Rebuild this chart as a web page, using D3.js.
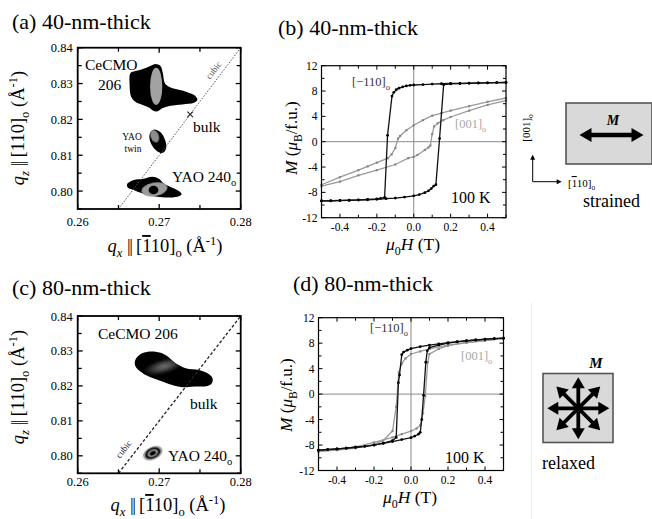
<!DOCTYPE html>
<html>
<head>
<meta charset="utf-8">
<script src="https://cdn.jsdelivr.net/npm/d3@7"></script>
<style>
  body { margin: 0; background: #fff; }
  svg, svg text { font-family: "Liberation Serif", "DejaVu Serif", serif; }
</style>
</head>
<body>
<svg id="fig" width="652" height="519" font-family="Liberation Serif"></svg>
<script>
'use strict';

/************************ data ************************/
// reciprocal space maps: peak outlines [qx, qz]
var ceCmoA = [[0.26646,0.83288],[0.26687,0.83334],[0.2679,0.83399],[0.26893,0.83492],[0.26954,0.83547],[0.27016,0.83492],
    [0.27045,0.83288],[0.2707,0.8301],[0.2714,0.8289],[0.27242,0.82825],[0.27345,0.8276],[0.27428,0.82677],[0.27469,0.82547],
    [0.27428,0.82464],[0.27284,0.82418],[0.2714,0.8238],[0.27045,0.82316],[0.26975,0.82223],[0.26921,0.82251],[0.2688,0.82325],
    [0.2679,0.82408],[0.26707,0.82492],[0.26654,0.8264],[0.26637,0.82964]];
var yaoTwinA = [[0.26934,0.81714],[0.27016,0.8164],[0.2707,0.81436],[0.27086,0.81205],[0.27045,0.81066],
    [0.26975,0.81112],[0.26913,0.8127],[0.2688,0.81482],[0.26893,0.8164]];
var yao240A = [[0.26605,0.80186],[0.26687,0.80306],[0.2681,0.80344],[0.26913,0.80399],[0.26996,0.80344],[0.27057,0.80214],
    [0.2716,0.80094],[0.27242,0.80001],[0.27275,0.79908],[0.27201,0.79834],[0.27036,0.79825],[0.26913,0.79862],
    [0.2679,0.79936],[0.26687,0.80029],[0.26617,0.80094]];
// inner contour levels [qx, qz, half width qx, half width qz]
var coresA = [[0.26963,0.8292,0.00075,0.0052],[0.26945,0.8153,0.0005,0.0018],[0.26942,0.80048,0.0016,0.0019],[0.2693,0.8003,0.0006,0.0012]];

var ceCmoC = [[0.26707,0.82743],[0.2679,0.82934],[0.26954,0.8298],[0.27078,0.82886],[0.27201,0.82648],[0.27325,0.82505],
    [0.27489,0.82457],[0.27593,0.82362],[0.27654,0.8222],[0.27646,0.82077],[0.27593,0.82],[0.27448,0.8198],
    [0.27325,0.81963],[0.27201,0.82],[0.27037,0.82123],[0.26872,0.82266],[0.26769,0.82409],[0.26707,0.82571]];
var coresC = [[0.27060,0.82560,0.0026,0.0019]];
var yao240C = [0.26921, 0.80077, 0.00125, 0.00185];
var yaoRings = [1, 0.78, 0.55, 0.3];

var cubicLine = [[0.265, 0.795], [0.28, 0.84]];
var bulkA = [0.2738, 0.8214];

var qxMajor = [0.26, 0.27, 0.28], qxMinor = [0.265, 0.275];
var qzMajor = [0.80, 0.81, 0.82, 0.83, 0.84], qzMinor = [0.795, 0.805, 0.815, 0.825, 0.835];

// hysteresis loops [mu0H (T), M (muB/f.u.)]
var b110Down = [[0.5,9.35],[0.45,9.33],[0.4,9.3],[0.35,9.28],[0.3,9.25],[0.25,9.22],[0.2,9.2],[0.15,9.15],[0.1,9.1],[0.05,9.02],
    [0.0,8.95],[-0.02,8.9],[-0.04,8.8],[-0.06,8.65],[-0.08,8.45],[-0.095,8.2],[-0.108,7.8],[-0.118,7.2],[-0.142,1.0],
    [-0.158,-8.8],[-0.18,-8.95],[-0.2,-9.02],[-0.25,-9.1],[-0.3,-9.18],[-0.35,-9.23],[-0.4,-9.27],[-0.45,-9.32],[-0.5,-9.35]];
var b110Up = [[-0.5,-9.35],[-0.45,-9.33],[-0.4,-9.3],[-0.35,-9.27],[-0.3,-9.22],[-0.25,-9.17],[-0.2,-9.1],[-0.15,-9.0],
    [-0.1,-8.9],[-0.05,-8.75],[0.0,-8.55],[0.03,-8.35],[0.06,-8.05],[0.08,-7.75],[0.095,-7.4],[0.108,-7.0],[0.12,-6.8],
    [0.14,0.5],[0.162,9.0],[0.2,9.12],[0.25,9.18],[0.3,9.22],[0.35,9.26],[0.4,9.3],[0.45,9.32],[0.5,9.35]];
var b001Down = [[0.5,6.9],[0.4,6.3],[0.3,5.6],[0.2,4.9],[0.15,4.5],[0.1,4.1],[0.05,3.4],[0.0,2.6],[-0.04,1.8],[-0.074,0.9],
    [-0.085,0.5],[-0.1,-1.0],[-0.12,-2.0],[-0.14,-2.6],[-0.2,-3.3],[-0.25,-3.9],[-0.3,-4.5],[-0.4,-5.6],[-0.5,-6.8]];
var b001Up = [[-0.5,-7.0],[-0.4,-6.3],[-0.3,-5.3],[-0.2,-4.5],[-0.1,-3.6],[-0.03,-2.6],[0.0,-2.4],[0.02,-2.1],[0.06,-1.3],
    [0.08,-0.9],[0.09,-0.6],[0.1,1.2],[0.11,2.4],[0.13,2.9],[0.16,3.4],[0.2,3.9],[0.3,4.9],[0.4,5.8],[0.5,6.5]];

var d110Down = [[0.5,8.8],[0.45,8.72],[0.4,8.62],[0.35,8.5],[0.3,8.38],[0.25,8.25],[0.2,8.1],[0.15,7.9],[0.1,7.7],[0.05,7.45],
    [0.0,7.15],[-0.02,6.9],[-0.04,6.6],[-0.05,6.2],[-0.062,3.0],[-0.068,1.8],[-0.08,-6.8],[-0.1,-7.3],[-0.15,-7.7],
    [-0.2,-8.0],[-0.25,-8.2],[-0.3,-8.35],[-0.35,-8.5],[-0.4,-8.6],[-0.45,-8.7],[-0.5,-8.8]];
var d110Up = [[-0.5,-8.8],[-0.45,-8.72],[-0.4,-8.62],[-0.35,-8.5],[-0.3,-8.35],[-0.25,-8.2],[-0.2,-8.0],[-0.15,-7.75],
    [-0.1,-7.45],[-0.05,-7.15],[0.0,-6.85],[0.02,-6.6],[0.04,-6.3],[0.05,-6.0],[0.058,-4.0],[0.068,-0.2],[0.08,5.0],
    [0.088,6.8],[0.1,7.3],[0.15,7.7],[0.2,8.0],[0.25,8.2],[0.3,8.35],[0.35,8.5],[0.4,8.6],[0.45,8.7],[0.5,8.8]];
var d001Down = [[0.5,8.7],[0.4,8.4],[0.3,8.1],[0.2,7.7],[0.1,7.1],[0.05,6.7],[0.0,6.3],[-0.03,5.6],[-0.05,4.8],[-0.066,3.4],
    [-0.08,-2.0],[-0.1,-5.8],[-0.15,-7.3],[-0.2,-7.9],[-0.3,-8.5],[-0.4,-8.8],[-0.5,-9.0]];
var d001Up = [[-0.5,-9.0],[-0.4,-8.7],[-0.3,-8.3],[-0.2,-7.6],[-0.1,-6.8],[-0.05,-6.3],[0.0,-5.8],[0.03,-5.4],[0.05,-4.9],
    [0.065,-3.0],[0.077,-0.3],[0.09,5.0],[0.1,6.3],[0.15,7.1],[0.2,7.6],[0.3,8.1],[0.4,8.4],[0.5,8.7]];

var hMajor = [-0.4, -0.2, 0.0, 0.2, 0.4], hMinor = [-0.5, -0.3, -0.1, 0.1, 0.3, 0.5];
var mMajor = [-12, -8, -4, 0, 4, 8, 12], mMinor = [-10, -6, -2, 2, 6, 10];

// magnetization directions in the schematics (degrees)
var strainedDirs = [0];
var relaxedDirs = [0, 45, 90, 135];

/************************ helpers ************************/
var FONT = '"Liberation Serif", "DejaVu Serif", serif';
var svg = d3.select('#fig');
var defs = svg.append('defs');

defs.append('filter').attr('id', 'soft')
    .append('feGaussianBlur').attr('stdDeviation', 0.6);
defs.append('filter').attr('id', 'glowBlur')
    .append('feGaussianBlur').attr('stdDeviation', 1.6);

var grad = defs.append('radialGradient').attr('id', 'cecmoGlow');
grad.append('stop').attr('offset', '0%').attr('stop-color', '#7a7a7a');
grad.append('stop').attr('offset', '55%').attr('stop-color', '#3a3a3a');
grad.append('stop').attr('offset', '100%').attr('stop-color', '#050505');

// text with italic / sub / sup / overline pieces
function rich(parent, x, y, size, parts, anchor, rotate) {
    var t = parent.append('text')
        .attr('font-size', size)
        .style('font-family', FONT)
        .attr('text-anchor', anchor || 'start');
    if (rotate) {
        t.attr('transform', 'translate(' + x + ',' + y + ') rotate(' + rotate + ')');
    } else {
        t.attr('x', x).attr('y', y);
    }
    var shift = 0;
    parts.forEach(function (p) {
        if (typeof p === 'string') { p = { t: p }; }
        var want = p.sub ? size * 0.28 : (p.sup ? -size * 0.38 : 0);
        var s = t.append('tspan').text(p.t).attr('dy', want - shift);
        shift = want;
        if (p.sub || p.sup) { s.attr('font-size', size * 0.68); }
        if (p.i) { s.style('font-style', 'italic'); }
        if (p.b) { s.style('font-weight', 'bold'); }
        if (p.ol) { s.style('text-decoration', 'overline'); }
        if (p.ls) { s.attr('letter-spacing', p.ls); }
    });
    return t;
}

function ticks(g, x, y, xMaj, xMin, yMaj, yMin, lenMaj, lenMin, sw) {
    var x0 = x.range()[0], x1 = x.range()[1], y0 = y.range()[0], y1 = y.range()[1];
    function vt(v, len) {
        g.append('line').attr('x1', x(v)).attr('x2', x(v)).attr('y1', y0).attr('y2', y0 - len);
        g.append('line').attr('x1', x(v)).attr('x2', x(v)).attr('y1', y1).attr('y2', y1 + len);
    }
    function ht(v, len) {
        g.append('line').attr('y1', y(v)).attr('y2', y(v)).attr('x1', x0).attr('x2', x0 + len);
        g.append('line').attr('y1', y(v)).attr('y2', y(v)).attr('x1', x1).attr('x2', x1 - len);
    }
    xMaj.forEach(function (v) { vt(v, lenMaj); });
    xMin.forEach(function (v) { vt(v, lenMin); });
    yMaj.forEach(function (v) { ht(v, lenMaj); });
    yMin.forEach(function (v) { ht(v, lenMin); });
    g.selectAll('line').attr('stroke', '#000').attr('stroke-width', sw);
}

function plainText(g, s, x, y, size, anchor) {
    return g.append('text').text(s)
        .attr('x', x).attr('y', y)
        .attr('font-size', size)
        .style('font-family', FONT)
        .attr('text-anchor', anchor);
}

/************************ RSM panels ************************/
function drawMap(cfg) {
    var g = svg.append('g');
    var x = d3.scaleLinear().domain([0.26, 0.28]).range([cfg.left, cfg.right]);
    var y = d3.scaleLinear().domain([0.795, 0.84]).range([cfg.bottom, cfg.top]);
    var blob = d3.line().x(function (d) { return x(d[0]); }).y(function (d) { return y(d[1]); })
        .curve(d3.curveCatmullRomClosed.alpha(0.5));

    defs.append('clipPath').attr('id', cfg.id + 'clip').append('rect')
        .attr('x', cfg.left).attr('y', cfg.top)
        .attr('width', cfg.right - cfg.left).attr('height', cfg.bottom - cfg.top);
    var plot = g.append('g').attr('clip-path', 'url(#' + cfg.id + 'clip)');

    function ell(c, fill, k, rot, clip, filt) {
        var cx = x(c[0]), cy = y(c[1]);
        var holder = clip ? plot.append('g').attr('clip-path', clip) : plot;
        return holder.append('ellipse')
            .attr('cx', cx).attr('cy', cy)
            .attr('rx', (x(c[0] + c[2]) - cx) * (k || 1))
            .attr('ry', (cy - y(c[1] + c[3])) * (k || 1))
            .attr('fill', fill)
            .attr('transform', rot ? 'rotate(' + rot + ',' + cx + ',' + cy + ')' : null)
            .attr('filter', filt || 'url(#soft)');
    }

    cfg.blobs.forEach(function (b, i) {
        plot.append('path').attr('d', blob(b)).attr('fill', '#050505').attr('filter', 'url(#soft)');
        defs.append('clipPath').attr('id', cfg.id + 'blob' + i).append('path').attr('d', blob(b));
    });
    cfg.draw(plot, x, y, ell);

    plot.append('path')
        .attr('d', d3.line().x(function (d) { return x(d[0]); }).y(function (d) { return y(d[1]); })(cubicLine))
        .attr('fill', 'none')
        .attr('stroke', cfg.cubicColor)
        .attr('stroke-width', cfg.cubicWidth)
        .attr('stroke-dasharray', cfg.cubicDash);

    // cubic label along the line
    var ang = Math.atan2(y(cubicLine[1][1]) - y(cubicLine[0][1]), x(cubicLine[1][0]) - x(cubicLine[0][0])) * 180 / Math.PI;
    g.append('text').text('cubic')
        .attr('font-size', 9).style('font-family', FONT)
        .attr('fill', cfg.cubicColor).attr('text-anchor', 'middle')
        .attr('transform', 'translate(' + cfg.cubicAt[0] + ',' + cfg.cubicAt[1] + ') rotate(' + ang + ')');

    g.append('rect')
        .attr('x', cfg.left).attr('y', cfg.top)
        .attr('width', cfg.right - cfg.left).attr('height', cfg.bottom - cfg.top)
        .attr('fill', 'none').attr('stroke', '#000').attr('stroke-width', 1.8);
    ticks(g.append('g'), x, y, qxMajor, qxMinor, qzMajor, qzMinor, 5, 4, 1.3);

    qxMajor.forEach(function (v) {
        plainText(g, d3.format('.2f')(v), x(v), cfg.bottom + cfg.xTickDy, 12.5, 'middle');
    });
    qzMajor.forEach(function (v) {
        plainText(g, d3.format('.2f')(v), cfg.left - 5, y(v) + 4.5, 12.5, 'end');
    });

    rich(g, cfg.xLabel[0], cfg.xLabel[1], 18.5,
        [{ t: 'q', i: 1 }, { t: 'x', i: 1, sub: 1 }, ' ', { t: '||', ls: -1.5 }, ' [', { t: '1', ol: 1 }, '10]', { t: 'o', sub: 1 }, ' (\u00c5', { t: '-1', sup: 1 }, ')'],
        'middle');
    rich(g, cfg.yLabel[0], cfg.yLabel[1], 18.5,
        [{ t: 'q', i: 1 }, { t: 'z', i: 1, sub: 1 }, ' ', { t: '||', ls: -1.5 }, ' [110]', { t: 'o', sub: 1 }, ' (\u00c5', { t: '-1', sup: 1 }, ')'],
        'middle', -90);
    rich(g, cfg.title[0], cfg.title[1], 22, [cfg.title[2]]);
    return { g: g, x: x, y: y };
}

var pa = drawMap({
    id: 'a', left: 77.7, right: 240.7, top: 47.7, bottom: 209,
    blobs: [ceCmoA, yaoTwinA, yao240A],
    cubicColor: '#555', cubicWidth: 1, cubicDash: '1.5,1.5', cubicAt: [216, 72],
    xTickDy: 17, xLabel: [165, 252], yLabel: [24, 128], title: [12, 29, '(a) 40-nm-thick'],
    draw: function (plot, x, y, ell) {
        ell(coresA[0], '#a2a2a2');
        ell(coresA[1], '#8c8c8c', 1, -20);
        ell(coresA[2], '#9a9a9a', 1, -10);
        ell(coresA[3], '#000');
    }
});
// bulk position marker
(function () {
    var bx = pa.x(bulkA[0]), by = pa.y(bulkA[1]), r = 2.8;
    pa.g.append('path')
        .attr('d', 'M' + (bx - r) + ',' + (by - r) + 'L' + (bx + r) + ',' + (by + r) + 'M' + (bx - r) + ',' + (by + r) + 'L' + (bx + r) + ',' + (by - r))
        .attr('stroke', '#222').attr('stroke-width', 1.1);
})();
rich(pa.g, 85, 70, 15.5, ['CeCMO']);
rich(pa.g, 98, 90, 15.5, ['206']);
rich(pa.g, 193, 132, 15.5, ['bulk']);
rich(pa.g, 132, 140, 9.5, ['YAO'], 'middle');
rich(pa.g, 133, 152, 9.5, ['twin'], 'middle');
rich(pa.g, 172, 182, 15.5, ['YAO 240', { t: 'o', sub: 1 }]);

var pc = drawMap({
    id: 'c', left: 77.7, right: 240.7, top: 316, bottom: 473.3,
    blobs: [ceCmoC],
    cubicColor: '#222', cubicWidth: 1.3, cubicDash: '3,2', cubicAt: [126, 451],
    xTickDy: 13, xLabel: [168, 511], yLabel: [24, 387], title: [12, 295, '(c) 80-nm-thick'],
    draw: function (plot, x, y, ell) {
        ell(coresC[0], 'url(#cecmoGlow)', 1, -15, 'url(#cblob0)', 'url(#glowBlur)');
        yaoRings.forEach(function (k, i) {
            ell(yao240C, ['#9a9a9a', '#111', '#8a8a8a', '#000'][i], k, -25);
        });
    }
});
rich(pc.g, 98, 339, 15.5, ['CeCMO 206']);
rich(pc.g, 190, 409, 15.5, ['bulk']);
rich(pc.g, 168, 461, 15.5, ['YAO 240', { t: 'o', sub: 1 }]);

/************************ M-H panels ************************/
function drawLoop(cfg) {
    var g = svg.append('g');
    var x = d3.scaleLinear().domain([-0.5, 0.5]).range([cfg.left, cfg.right]);
    var y = d3.scaleLinear().domain([-12, 12]).range([cfg.bottom, cfg.top]);
    var line = d3.line().x(function (d) { return x(d[0]); }).y(function (d) { return y(d[1]); });

    // zero lines
    g.append('line').attr('x1', x(-0.5)).attr('x2', x(0.5)).attr('y1', y(0)).attr('y2', y(0))
        .attr('stroke', '#8a8a8a').attr('stroke-width', 1);
    g.append('line').attr('x1', x(0)).attr('x2', x(0)).attr('y1', y(-12)).attr('y2', y(12))
        .attr('stroke', '#8a8a8a').attr('stroke-width', 1);

    // [001] loop (grey)
    [cfg.g001[0], cfg.g001[1]].forEach(function (br) {
        g.append('path').attr('d', line(br)).attr('fill', 'none')
            .attr('stroke', '#9a9a9a').attr('stroke-width', 1.3);
        g.selectAll(null).data(br).enter().append('rect')
            .attr('x', function (d) { return x(d[0]) - 1.1; })
            .attr('y', function (d) { return y(d[1]) - 1.1; })
            .attr('width', 2.2).attr('height', 2.2).attr('fill', '#888');
    });
    // [-110] loop (black)
    [cfg.g110[0], cfg.g110[1]].forEach(function (br) {
        g.append('path').attr('d', line(br)).attr('fill', 'none')
            .attr('stroke', '#111').attr('stroke-width', 1.3);
        g.selectAll(null).data(br).enter().append('circle')
            .attr('cx', function (d) { return x(d[0]); })
            .attr('cy', function (d) { return y(d[1]); })
            .attr('r', 1.4).attr('fill', '#000');
    });

    g.append('rect')
        .attr('x', cfg.left).attr('y', cfg.top)
        .attr('width', cfg.right - cfg.left).attr('height', cfg.bottom - cfg.top)
        .attr('fill', 'none').attr('stroke', '#000').attr('stroke-width', 1.2);
    ticks(g.append('g'), x, y, hMajor, hMinor, mMajor, mMinor, 4, 3, 1);

    hMajor.forEach(function (v) {
        plainText(g, d3.format('.1f')(v).replace('\u2212', '-'), x(v), cfg.bottom + 13.5, 11.5, 'middle');
    });
    mMajor.forEach(function (v) {
        plainText(g, String(v), cfg.left - 4, y(v) + 4, 11.5, 'end');
    });

    rich(g, cfg.xLabel[0], cfg.xLabel[1], 17.5,
        [{ t: '\u03bc', i: 1 }, { t: '0', sub: 1 }, { t: 'H', i: 1 }, ' (T)'], 'middle');
    rich(g, cfg.yLabel[0], cfg.yLabel[1], 17,
        [{ t: 'M', i: 1 }, ' (', { t: '\u03bc', i: 1 }, { t: 'B', sub: 1 }, '/f.u.)'], 'middle', -90);
    rich(g, cfg.title[0], cfg.title[1], 22, [cfg.title[2]]);

    rich(g, cfg.lab110[0], cfg.lab110[1], 12.5, ['[\u2212110]', { t: 'o', sub: 1 }]).attr('fill', '#333');
    rich(g, cfg.lab001[0], cfg.lab001[1], 12.5, ['[001]', { t: 'o', sub: 1 }]).attr('fill', '#a8a8a8');
    rich(g, cfg.temp[0], cfg.temp[1], 16, ['100 K']);
    return g;
}

drawLoop({
    left: 321.5, right: 506, top: 65.7, bottom: 217.7,
    g110: [b110Down, b110Up], g001: [b001Down, b001Up],
    xLabel: [413, 250], yLabel: [297, 138], title: [278, 35, '(b) 40-nm-thick'],
    lab110: [352, 86], lab001: [455, 128], temp: [451, 203]
});
drawLoop({
    left: 318.5, right: 503.5, top: 317.7, bottom: 470.5,
    g110: [d110Down, d110Up], g001: [d001Down, d001Up],
    xLabel: [410, 503], yLabel: [292, 395], title: [293, 291, '(d) 80-nm-thick'],
    lab110: [370, 332], lab001: [461, 360], temp: [445, 463]
});

/************************ schematics ************************/
function arrow(g, cx, cy, deg, half, head, hw, sw, both) {
    var a = g.append('g').attr('transform', 'translate(' + cx + ',' + cy + ') rotate(' + (-deg) + ')');
    a.append('line').attr('x1', both ? -half + head * 0.7 : 0).attr('x2', half - head * 0.7)
        .attr('y1', 0).attr('y2', 0).attr('stroke', '#000').attr('stroke-width', sw);
    a.append('path').attr('d', 'M' + half + ',0L' + (half - head) + ',' + (-hw) + 'L' + (half - head) + ',' + hw + 'Z')
        .attr('fill', '#000');
    if (both) {
        a.append('path').attr('d', 'M' + (-half) + ',0L' + (-half + head) + ',' + (-hw) + 'L' + (-half + head) + ',' + hw + 'Z')
            .attr('fill', '#000');
    }
}

var sch = svg.append('g');
// separator
sch.append('line').attr('x1', 531.5).attr('x2', 531.5).attr('y1', 303).attr('y2', 519)
    .attr('stroke', '#ececec').attr('stroke-width', 1);

// strained
sch.append('rect').attr('x', 566).attr('y', 103).attr('width', 86).attr('height', 61)
    .attr('fill', '#d9d9d9').attr('stroke', '#555').attr('stroke-width', 1.6);
strainedDirs.forEach(function (d) { arrow(sch, 611.5, 135, d, 32, 12, 7, 4.5, true); });
rich(sch, 613, 125, 14, [{ t: 'M', i: 1, b: 1 }], 'middle');
arrow(sch, 532.7, 181.7, 90, 27, 5, 2.5, 1, false);
arrow(sch, 532.7, 181.7, 0, 29, 5, 2.5, 1, false);
rich(sch, 530, 128, 11, ['[001]', { t: 'o', sub: 1 }], 'middle', -90);
rich(sch, 568, 187, 11, ['[', { t: '1', ol: 1 }, '10]', { t: 'o', sub: 1 }]);
rich(sch, 583, 207, 18, ['strained']);

// relaxed
sch.append('rect').attr('x', 543).attr('y', 373.5).attr('width', 70).attr('height', 69)
    .attr('fill', '#d9d9d9').attr('stroke', '#555').attr('stroke-width', 1.6);
relaxedDirs.forEach(function (d) { arrow(sch, 578.3, 408.3, d, 31, 11, 6.5, 3.8, true); });
rich(sch, 596, 368, 15, [{ t: 'M', i: 1, b: 1 }], 'middle');
rich(sch, 542, 469, 18, ['relaxed']);
</script>
</body>
</html>
